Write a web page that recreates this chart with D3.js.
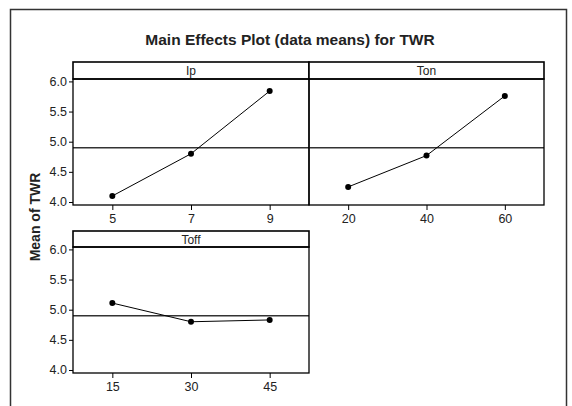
<!DOCTYPE html>
<html lang="en">
<head>
<meta charset="utf-8">
<title>Main Effects Plot (data means) for TWR</title>
<script src="https://cdn.jsdelivr.net/npm/d3@7"></script>
<style>
    body { margin : 0; background : #fff; }
    text { font-family : "Liberation Sans", Arial, sans-serif; fill : #222; }
</style>
</head>
<body>
<div id="chart"></div>
<script>

// data
var factors    = [ "Ip" , "Ton" , "Toff" ];
var ipLevels   = [ 5 , 7 , 9 ];
var ipMeans    = [ 4.10 , 4.80 , 5.84 ];
var tonLevels  = [ 20 , 40 , 60 ];
var tonMeans   = [ 4.25 , 4.77 , 5.76 ];
var toffLevels = [ 15 , 30 , 45 ];
var toffMeans  = [ 5.11 , 4.80 , 4.83 ];
var grandMean  = 4.90;
var yTicks     = [ 4.0 , 4.5 , 5.0 , 5.5 , 6.0 ];

var W = 572 , H = 406;

var svg = d3.select( "#chart" ).append( "svg" )
    .attr( "width" , W )
    .attr( "height" , H );

// outer frame
svg.append( "rect" )
    .attr( "x" , 10.5 ).attr( "y" , 9.5 )
    .attr( "width" , 556 ).attr( "height" , 420 )
    .attr( "fill" , "none" )
    .attr( "stroke" , "#333" )
    .attr( "stroke-width" , 1.5 );

svg.append( "text" )
    .attr( "x" , 290 ).attr( "y" , 45 )
    .attr( "text-anchor" , "middle" )
    .style( "font-size" , "15.5px" )
    .style( "font-weight" , "bold" )
    .text( "Main Effects Plot (data means) for TWR" );

svg.append( "text" )
    .attr( "transform" , "translate(40,217) rotate(-90)" )
    .attr( "text-anchor" , "middle" )
    .style( "font-size" , "14px" )
    .style( "font-weight" , "bold" )
    .text( "Mean of TWR" );

var panels = [
    { name : factors[0] , levels : ipLevels   , means : ipMeans   , x0 : 73  , x1 : 309 , top : 62  , strip : 79  , bottom : 205 , yaxis : true  },
    { name : factors[1] , levels : tonLevels  , means : tonMeans  , x0 : 309 , x1 : 544 , top : 62  , strip : 79  , bottom : 205 , yaxis : false },
    { name : factors[2] , levels : toffLevels , means : toffMeans , x0 : 73  , x1 : 309 , top : 231 , strip : 247 , bottom : 373 , yaxis : true  }
];

function draw_panel( p )
{
    var step = p.levels[1] - p.levels[0];
    var x = d3.scaleLinear()
        .domain( [ p.levels[0] - step / 2 , p.levels[p.levels.length-1] + step / 2 ] )
        .range( [ p.x0 , p.x1 ] );
    var y = d3.scaleLinear()
        .domain( [ 3.95 , 6.04 ] )
        .range( [ p.bottom , p.strip ] );

    var g = svg.append( "g" );

    // grand mean reference line
    g.append( "line" )
        .attr( "x1" , p.x0 ).attr( "x2" , p.x1 )
        .attr( "y1" , y( grandMean ) ).attr( "y2" , y( grandMean ) )
        .attr( "stroke" , "#333" )
        .attr( "stroke-width" , 1.3 );

    // strip
    g.append( "rect" )
        .attr( "x" , p.x0 ).attr( "y" , p.top )
        .attr( "width" , p.x1 - p.x0 ).attr( "height" , p.strip - p.top )
        .attr( "fill" , "#fff" )
        .attr( "stroke" , "#000" )
        .attr( "stroke-width" , 1.6 );
    g.append( "text" )
        .attr( "x" , ( p.x0 + p.x1 ) / 2 ).attr( "y" , p.top + 13 )
        .attr( "text-anchor" , "middle" )
        .style( "font-size" , "12px" )
        .text( p.name );

    // plot frame
    g.append( "rect" )
        .attr( "x" , p.x0 ).attr( "y" , p.strip )
        .attr( "width" , p.x1 - p.x0 ).attr( "height" , p.bottom - p.strip )
        .attr( "fill" , "none" )
        .attr( "stroke" , "#000" )
        .attr( "stroke-width" , 1.3 );

    // x axis
    var xa = g.append( "g" )
        .attr( "transform" , "translate(0," + p.bottom + ")" )
        .call( d3.axisBottom( x ).tickValues( p.levels ).tickFormat( d3.format( "d" ) ).tickSize( 5 ).tickPadding( 4 ) );
    xa.select( ".domain" ).remove();
    xa.selectAll( "text" ).style( "font-size" , "12.5px" ).attr( "fill" , "#222" );

    if( p.yaxis )
    {
        var ya = g.append( "g" )
            .attr( "transform" , "translate(" + p.x0 + ",0)" )
            .call( d3.axisLeft( y ).tickValues( yTicks ).tickFormat( d3.format( ".1f" ) ).tickSize( 4 ).tickPadding( 2 ) );
        ya.select( ".domain" ).remove();
        ya.selectAll( "text" ).style( "font-size" , "12.5px" ).attr( "fill" , "#222" );
    }

    var pts = p.levels.map( function( d , i ) { return [ d , p.means[i] ]; } );

    g.append( "path" )
        .datum( pts )
        .attr( "fill" , "none" )
        .attr( "stroke" , "#000" )
        .attr( "stroke-width" , 1 )
        .attr( "d" , d3.line().x( function( d ) { return x( d[0] ); } ).y( function( d ) { return y( d[1] ); } ) );

    g.selectAll( "circle" )
        .data( pts )
        .enter().append( "circle" )
            .attr( "cx" , function( d ) { return x( d[0] ); } )
            .attr( "cy" , function( d ) { return y( d[1] ); } )
            .attr( "r" , 3 )
            .attr( "fill" , "#000" );
}

panels.forEach( draw_panel );

</script>
</body>
</html>
